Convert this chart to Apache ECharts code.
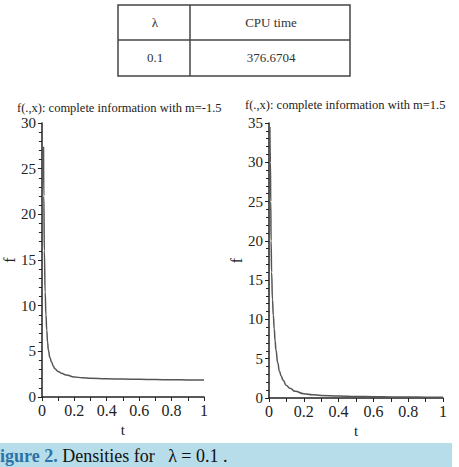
<!DOCTYPE html>
<html>
<head>
<meta charset="utf-8">
<script src="https://cdn.jsdelivr.net/npm/echarts@6/dist/echarts.min.js"></script>
<style>
html, body { margin: 0; padding: 0; background: #fff; }
#chart { width: 459px; height: 467px; }
</style>
</head>
<body>
<div id="chart"></div>
<script>
// table at the top
const tableHead = ['λ', 'CPU time']
const tableRow = ['0.1', '376.6704']

// left panel, m = -1.5
const tLeft = [0.01, 0.012, 0.015, 0.02, 0.025, 0.03, 0.035, 0.04, 0.05, 0.06, 0.07, 0.08, 0.1, 0.12, 0.15, 0.2, 0.25, 0.3, 0.4, 0.5, 0.6, 0.7, 0.8, 0.9, 1]
const fLeft = [27.4, 22, 16, 11.5, 9, 7.3, 6, 5.1, 4.3, 3.8, 3.4, 3.1, 2.8, 2.6, 2.4, 2.2, 2.1, 2.05, 2.0, 1.96, 1.93, 1.91, 1.89, 1.87, 1.85]

// right panel, m = 1.5
const tRight = [0.005, 0.008, 0.01, 0.012, 0.015, 0.02, 0.025, 0.03, 0.035, 0.04, 0.05, 0.06, 0.07, 0.08, 0.1, 0.12, 0.15, 0.2, 0.25, 0.3, 0.4, 0.5, 0.6, 0.7, 0.8, 0.9, 1]
const fRight = [34.5, 30, 25, 20, 16, 12.5, 10.5, 8.8, 7.3, 6.1, 4.5, 3.4, 2.8, 2.3, 1.6, 1.25, 0.85, 0.55, 0.42, 0.33, 0.25, 0.2, 0.17, 0.14, 0.12, 0.11, 0.1]

const titles = ['f(.,x): complete information with m=-1.5', 'f(.,x): complete information with m=1.5']
const caption = ['igure 2.', ' Densities for   λ = 0.1 .']

const serif = 'Liberation Serif'

function pairs (xs, ys) {
    return xs.map((x, i) => [x, ys[i]])
}

function xAxisOf (gridIndex) {
    return {
        gridIndex: gridIndex,
        type: 'value',
        min: 0,
        max: 1,
        interval: 0.2,
        name: 't',
        nameLocation: 'middle',
        nameGap: 19,
        nameTextStyle: {fontFamily: serif, fontSize: 15, color: '#222'},
        axisLine: {onZero: false, lineStyle: {color: '#222', width: 1.5}},
        axisTick: {length: 4, lineStyle: {color: '#222'}},
        minorTick: {show: true, splitNumber: 2, length: 4, lineStyle: {color: '#222'}},
        splitLine: {show: false},
        axisLabel: {fontFamily: serif, fontSize: 16, color: '#222', margin: 5}
    }
}

function yAxisOf (gridIndex, max) {
    return {
        gridIndex: gridIndex,
        type: 'value',
        min: 0,
        max: max,
        interval: 5,
        name: 'f',
        nameLocation: 'middle',
        nameGap: 24,
        nameRotate: 90,
        nameTextStyle: {fontFamily: serif, fontSize: 16, color: '#222'},
        axisLine: {show: true, lineStyle: {color: '#222', width: 1.5}},
        axisTick: {length: 4, lineStyle: {color: '#222'}},
        minorTick: {show: true, splitNumber: 5, length: 3, lineStyle: {color: '#222'}},
        splitLine: {show: false},
        axisLabel: {fontFamily: serif, fontSize: 15, color: '#222', margin: 6}
    }
}

function seriesOf (index, xs, ys) {
    return {
        type: 'line',
        xAxisIndex: index,
        yAxisIndex: index,
        data: pairs(xs, ys),
        showSymbol: false,
        smooth: true,
        smoothMonotone: 'x',
        lineStyle: {color: '#555', width: 1.5},
        silent: true
    }
}

const cellText = {fontFamily: serif, fontSize: 13, fill: '#333', align: 'center', verticalAlign: 'middle'}
const tableLine = {stroke: '#444', lineWidth: 1.5}

const option = {
    animation: false,
    textStyle: {fontFamily: serif},
    title: [
        {text: titles[0], left: 17, top: 101, padding: 0, textStyle: {fontFamily: serif, fontSize: 12.5, fontWeight: 'normal', color: '#222'}},
        {text: titles[1], left: 245, top: 98, padding: 0, textStyle: {fontFamily: serif, fontSize: 12.5, fontWeight: 'normal', color: '#222'}}
    ],
    grid: [
        {left: 28, right: 255, top: 123, bottom: 70},
        {left: 269, right: 16, top: 123, bottom: 69}
    ],
    xAxis: [xAxisOf(0), xAxisOf(1)],
    yAxis: [yAxisOf(0, 30), yAxisOf(1, 35)],
    series: [seriesOf(0, tLeft, fLeft), seriesOf(1, tRight, fRight)],
    graphic: [
        {type: 'rect', shape: {x: 118, y: 5, width: 232, height: 71}, style: {fill: 'none', ...tableLine}},
        {type: 'line', shape: {x1: 118, y1: 40, x2: 350, y2: 40}, style: tableLine},
        {type: 'line', shape: {x1: 190, y1: 5, x2: 190, y2: 76}, style: tableLine},
        {type: 'text', x: 155, y: 22, style: {text: tableHead[0], ...cellText}},
        {type: 'text', x: 271, y: 22, style: {text: tableHead[1], ...cellText}},
        {type: 'text', x: 155, y: 57, style: {text: tableRow[0], ...cellText}},
        {type: 'text', x: 271, y: 57, style: {text: tableRow[1], ...cellText}},
        {type: 'rect', shape: {x: 0, y: 443, width: 452, height: 24}, style: {fill: '#b6dde9'}},
        {
            type: 'text', x: 0, y: 456,
            style: {
                text: '{a|' + caption[0] + '}{b|' + caption[1] + '}',
                verticalAlign: 'middle',
                rich: {
                    a: {fontFamily: serif, fontSize: 18, fill: '#2a73a8', fontWeight: 'bold'},
                    b: {fontFamily: serif, fontSize: 18, fill: '#111'}
                }
            }
        }
    ]
}

const chart = echarts.init(document.getElementById('chart'), null, {renderer: 'svg'})
chart.setOption(option)
</script>
</body>
</html>
